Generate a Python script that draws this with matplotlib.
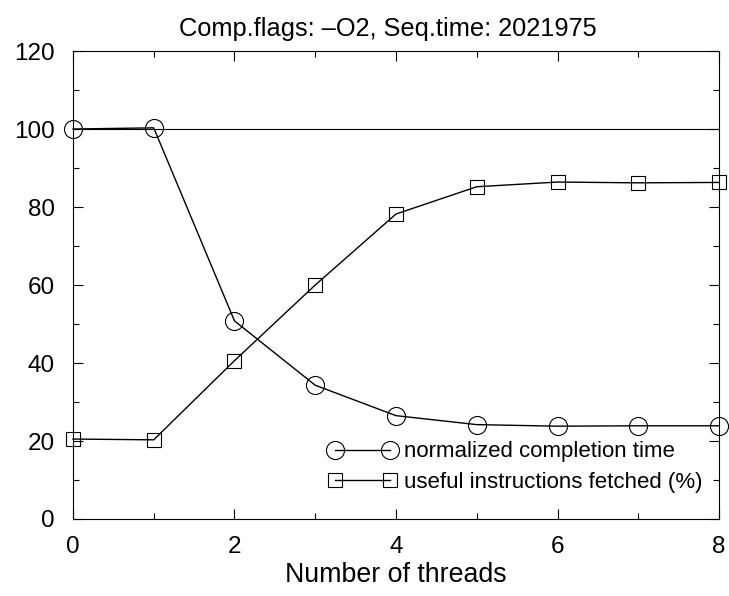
import matplotlib.pyplot as plt
from matplotlib.ticker import MultipleLocator

plt.rcParams['font.family'] = ['Liberation Sans', 'DejaVu Sans']

threads = [0, 1, 2, 3, 4, 5, 6, 7, 8]
completion_time = [100, 100.3, 50.8, 34.3, 26.5, 24.2, 23.8, 23.9, 23.9]
useful_fetched = [20.5, 20.3, 40.6, 60.0, 78.2, 85.2, 86.4, 86.2, 86.3]

fig = plt.figure(figsize=(7.29, 5.96), dpi=100)
ax = fig.add_axes([0.1001, 0.1292, 0.8862, 0.7852])

ax.axhline(100, color='black', lw=0.8)
ax.plot(threads, completion_time, color='black', lw=1.0, marker='o', ms=13,
        mfc='none', mec='black', mew=0.8, clip_on=False,
        label='normalized completion time')
ax.plot(threads, useful_fetched, color='black', lw=1.0, marker='s', ms=10,
        mfc='none', mec='black', mew=0.8, clip_on=False,
        label='useful instructions fetched (%)')

ax.set_xlim(0, 8)
ax.set_ylim(0, 120)
ax.xaxis.set_major_locator(MultipleLocator(2))
ax.xaxis.set_minor_locator(MultipleLocator(1))
ax.yaxis.set_major_locator(MultipleLocator(20))
ax.yaxis.set_minor_locator(MultipleLocator(10))
ax.tick_params(which='both', direction='in', top=True, right=True, width=0.8)
ax.tick_params(which='major', length=7, labelsize=17.5)
ax.tick_params(axis='y', which='major', pad=13)
ax.tick_params(axis='x', which='major', pad=12)
ax.tick_params(which='minor', length=4)

ax.set_title('Comp.flags: \u2013O2, Seq.time: 2021975', fontsize=18.3, pad=11,
             x=0.4876)
ax.set_xlabel('Number of threads', fontsize=19.3, labelpad=3)

ax.legend(loc='lower right', bbox_to_anchor=(703 / 729, 1 - 493 / 596),
          bbox_transform=fig.transFigure, frameon=False, borderpad=0,
          borderaxespad=0, numpoints=2, handlelength=3.08, handletextpad=0.37,
          fontsize=16, labelspacing=0.43)

fig.savefig('out.png', dpi=100)
